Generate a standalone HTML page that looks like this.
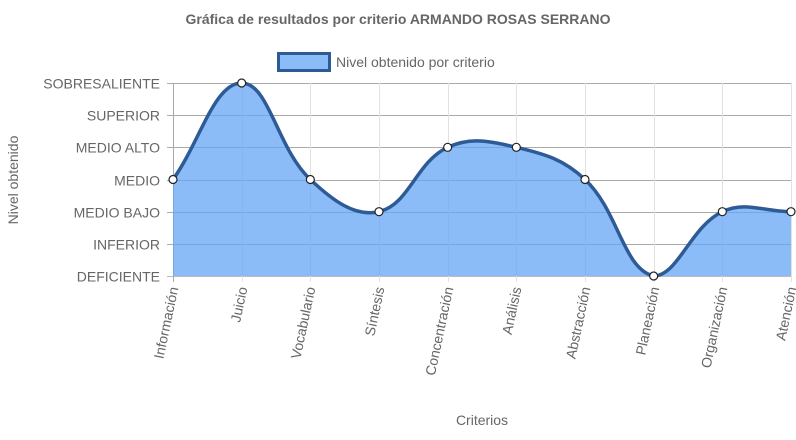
<!DOCTYPE html>
<html><head><meta charset="utf-8"><style>
body{margin:0;background:#fff;width:796px;height:435px;overflow:hidden;font-family:"Liberation Sans",sans-serif}
</style></head><body>
<svg id="c" width="796" height="435" xmlns="http://www.w3.org/2000/svg" font-family="Liberation Sans, sans-serif">
<text x="398" y="24" text-anchor="middle" font-size="14" font-weight="bold" fill="#666">Gráfica de resultados por criterio ARMANDO ROSAS SERRANO</text>
<g>
<rect x="278.5" y="53.5" width="51" height="17" fill="#8abcf7" stroke="#2e5b95" stroke-width="3"></rect>
<text x="336" y="67" font-size="14" fill="#666">Nivel obtenido por criterio</text>
</g>
<text transform="translate(18,180) rotate(-90)" text-anchor="middle" font-size="14" fill="#666">Nivel obtenido</text>
<text x="482" y="425" text-anchor="middle" font-size="14" fill="#666">Criterios</text>
<g id="grid"></g><g id="series"></g><g id="labels"></g>
</svg>
<script>
const categories=["Información","Juicio","Vocabulario","Síntesis","Concentración","Análisis","Abstracción","Planeación","Organización","Atención"];
const values=[3,6,3,2,4,4,3,0,2,2];
const levelLabels=["DEFICIENTE","INFERIOR","MEDIO BAJO","MEDIO","MEDIO ALTO","SUPERIOR","SOBRESALIENTE"];
const NS="http://www.w3.org/2000/svg";
const L=173,R=791,T=83,B=276;
const xs=i=>L+(R-L)*i/(categories.length-1);
const ys=v=>B-(B-T)*v/(levelLabels.length-1);
function mk(t,a,p){const e=document.createElementNS(NS,t);for(const k in a)e.setAttribute(k,a[k]);p.appendChild(e);return e;}
const grid=document.getElementById('grid'),lab=document.getElementById('labels'),ser=document.getElementById('series');
levelLabels.forEach((s,i)=>{const y=Math.round(ys(i))+0.5;
 const ln=mk('line',{x1:167,x2:R,y1:y,y2:y,stroke:i==0?'#bbb':'#aaa','stroke-width':1},grid);
 
 
 const t=mk('text',{x:160,y:y+5,'text-anchor':'end','font-size':14,fill:'#666'},lab);t.textContent=s;
 
 
});
categories.forEach((c,i)=>{const x=Math.round(xs(i))+0.5;
 const ln=mk('line',{x1:x,x2:x,y1:T,y2:B+6,stroke:i==0?'#aaa':'#e2e2e2','stroke-width':1},grid);
 
 
 const t=mk('text',{transform:`translate(${x+5},${B+12}) rotate(-78)`,'text-anchor':'end','font-size':14,fill:'#666'},lab);t.textContent=c;
 
 
});
const pts=values.map((v,i)=>({x:xs(i),y:ys(v)}));
const tn=0.4;
pts.forEach((p,i)=>{const a=pts[i-1]||p,b=pts[i+1]||p;
 const d01=Math.hypot(p.x-a.x,p.y-a.y),d12=Math.hypot(b.x-p.x,b.y-p.y);
 let s01=d01/(d01+d12),s12=d12/(d01+d12);if(isNaN(s01))s01=0;if(isNaN(s12))s12=0;
 const fa=tn*s01,fb=tn*s12;
 p.px=Math.min(R,Math.max(L,p.x-fa*(b.x-a.x)));p.py=Math.min(B,Math.max(T,p.y-fa*(b.y-a.y)));
 p.nx=Math.min(R,Math.max(L,p.x+fb*(b.x-a.x)));p.ny=Math.min(B,Math.max(T,p.y+fb*(b.y-a.y)));
});
let d=`M${pts[0].x},${pts[0].y}`;
for(let i=1;i<pts.length;i++){const a=pts[i-1],b=pts[i];d+=` C${a.nx},${a.ny} ${b.px},${b.py} ${b.x},${b.y}`;}
const area=mk('path',{d:d+` L${R},${B} L${L},${B} Z`,fill:'rgba(100,165,245,0.75)'},ser);


const line=mk('path',{d:d,fill:'none',stroke:'#2e5b95','stroke-width':3.5},ser);


pts.forEach((p,i)=>{const c=mk('circle',{cx:p.x,cy:p.y,r:4,fill:'#fff',stroke:'#222','stroke-width':1.2},ser);
 
 
});
</script>
</body></html>
